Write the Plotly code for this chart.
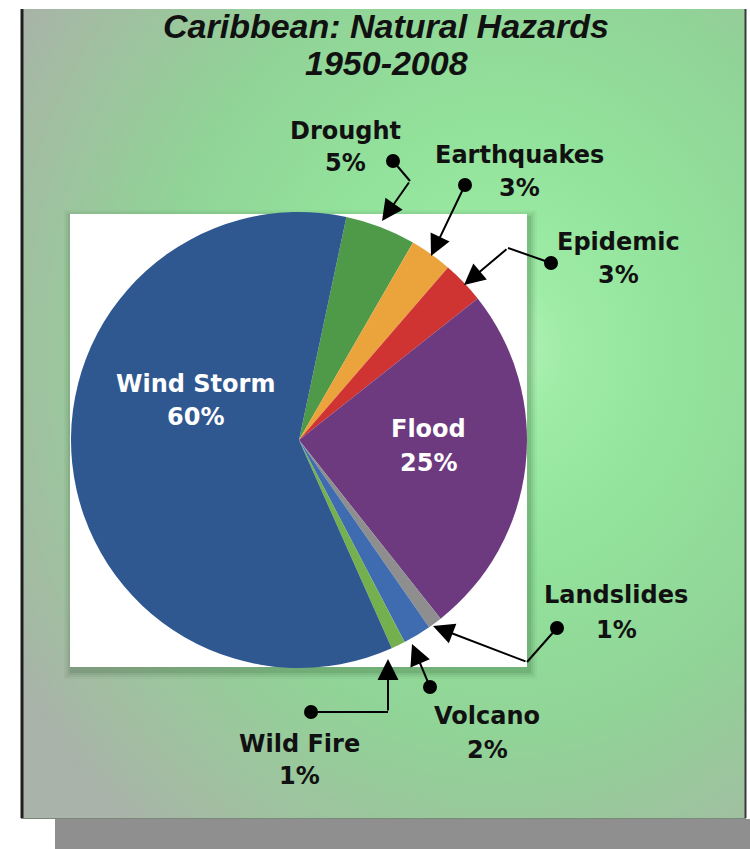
import base64
import plotly.graph_objects as go

# ---- data -------------------------------------------------------------
hazards = ["Drought", "Earthquakes", "Epidemic", "Flood",
           "Landslides", "Volcano", "Wild Fire", "Wind Storm"]
shares = [5, 3, 3, 25, 1, 2, 1, 60]
slice_colors = ["#4f9a48", "#eba43c", "#cf3332", "#6e3a7f",
                "#8e8e8e", "#3f6cb0", "#74b14e", "#2f5890"]
title_lines = ["Caribbean: Natural Hazards", "1950-2008"]

W, H = 750, 849


def px(x):
    return x / W


def py(y):
    return 1 - y / H


# ---- layout geometry (pixels) ----------------------------------------
panel = (21, 9, 746, 818)          # green panel
card = (70, 214, 527, 667)         # white card behind the pie
cx, cy, r = 299, 440, 228          # pie centre and radius

fig = go.Figure()

fig.add_trace(go.Pie(
    labels=hazards, values=shares, sort=False,
    direction="clockwise", rotation=12,
    marker=dict(colors=slice_colors, line=dict(width=0)),
    textinfo="none", hoverinfo="label+percent",
    domain=dict(x=[px(cx - r), px(cx + r)], y=[py(cy + r), py(cy - r)]),
    showlegend=False,
))

# ---- radial green background ----------------------------------------
svg = f"""<svg xmlns='http://www.w3.org/2000/svg' width='725' height='809'
 viewBox='0 0 725 809' preserveAspectRatio='none'>
<defs><radialGradient id='g' cx='0.66' cy='0.42' r='0.78'>
<stop offset='0' stop-color='#b6f2bb'/>
<stop offset='0.12' stop-color='#9eeca6'/>
<stop offset='0.35' stop-color='#92e29b'/>
<stop offset='0.62' stop-color='#91d397'/>
<stop offset='0.85' stop-color='#a0c0a0'/>
<stop offset='1' stop-color='#a9b3a9'/>
</radialGradient></defs>
<rect width='725' height='809' fill='url(#g)'/></svg>"""
src = "data:image/svg+xml;base64," + base64.b64encode(svg.encode()).decode()

fig.add_layout_image(dict(
    source=src, xref="paper", yref="paper",
    x=px(panel[0]), y=py(panel[1]),
    sizex=px(panel[2] - panel[0]), sizey=(panel[3] - panel[1]) / H,
    xanchor="left", yanchor="top", sizing="stretch", layer="below",
))

shapes = []


def rect(x0, y0, x1, y1, fill, line=None, lw=0, layer="below"):
    shapes.append(dict(type="rect", xref="paper", yref="paper",
                       x0=px(x0), x1=px(x1), y0=py(y1), y1=py(y0),
                       fillcolor=fill, line=dict(color=line or fill, width=lw),
                       layer=layer))


# grey drop shadow under the panel
rect(55, 819, 750, 849, "#8f8f8f")
# panel borders
shapes.append(dict(type="line", xref="paper", yref="paper",
                   x0=px(22), x1=px(22), y0=py(panel[1]), y1=py(panel[3]),
                   line=dict(color="#1e1e1e", width=3), layer="below"))
shapes.append(dict(type="line", xref="paper", yref="paper",
                   x0=px(745.5), x1=px(745.5), y0=py(panel[1]), y1=py(panel[3]),
                   line=dict(color="#3a3a3a", width=2), layer="below"))
shapes.append(dict(type="line", xref="paper", yref="paper",
                   x0=px(21), x1=px(746), y0=py(818.5), y1=py(818.5),
                   line=dict(color="#7a8a7a", width=1), layer="below"))

# soft shadow around the white card
for grow, alpha in [(8, 0.035), (6, 0.05), (4, 0.07), (2, 0.1)]:
    rect(card[0] - grow + 2, card[1] - grow + 4, card[2] + grow + 2,
         card[3] + grow + 4, f"rgba(20,60,20,{alpha})")
rect(*card, "white")

# ---- callouts ---------------------------------------------------------
# (dot, bend points..., arrow tip) for each small slice
callouts = {
    "Drought": [(393, 161), (410, 181), (382, 221)],
    "Earthquakes": [(465, 185), (431, 256)],
    "Epidemic": [(551, 263), (508, 248), (464, 285)],
    "Landslides": [(557, 628), (527, 662), (433, 626)],
    "Volcano": [(430, 687), (412, 644)],
    "Wild Fire": [(311, 712), (388, 712), (388, 659)],
}

annotations = []
for name, pts in callouts.items():
    dx, dy = pts[0]
    shapes.append(dict(type="circle", xref="paper", yref="paper",
                       x0=px(dx - 7), x1=px(dx + 7), y0=py(dy + 7), y1=py(dy - 7),
                       fillcolor="black", line=dict(color="black", width=0),
                       layer="above"))
    for (x0, y0), (x1, y1) in zip(pts[:-2], pts[1:-1]):
        shapes.append(dict(type="line", xref="paper", yref="paper",
                           x0=px(x0), y0=py(y0), x1=px(x1), y1=py(y1),
                           line=dict(color="black", width=2), layer="above"))
    (tx, ty), (hx, hy) = pts[-2], pts[-1]
    annotations.append(dict(
        xref="paper", yref="paper", x=px(hx), y=py(hy),
        ax=tx - hx, ay=ty - hy, axref="pixel", ayref="pixel",
        text="", showarrow=True, arrowhead=2, arrowsize=2.1,
        arrowwidth=2, arrowcolor="black", standoff=0, startstandoff=0,
    ))

# ---- labels -----------------------------------------------------------
label_pos = {
    "Drought": (345, 131, 163),
    "Earthquakes": (519, 155, 188),
    "Epidemic": (618, 242, 275),
    "Landslides": (616, 595, 630),
    "Volcano": (487, 716, 750),
    "Wild Fire": (299, 744, 776),
    "Wind Storm": (195, 384, 417),
    "Flood": (428, 429, 463),
}
inside = {"Wind Storm", "Flood"}
label_font = "DejaVu Sans, Verdana, sans-serif"

for name, val in zip(hazards, shares):
    x, y1, y2 = label_pos[name]
    color = "white" if name in inside else "#111111"
    for txt, yy in [(name, y1), (f"{val}%", y2)]:
        annotations.append(dict(
            xref="paper", yref="paper", x=px(x), y=py(yy),
            xanchor="center", yanchor="middle", text=txt, showarrow=False,
            font=dict(family=label_font, size=24, color=color, weight="bold"),
        ))

for txt, yy in zip(title_lines, [26, 63]):
    annotations.append(dict(
        xref="paper", yref="paper", x=px(386), y=py(yy),
        xanchor="center", yanchor="middle", text=txt, showarrow=False,
        font=dict(family="Liberation Sans, Arial, sans-serif", size=34,
                  color="#111111", weight="bold", style="italic"),
    ))

fig.update_layout(
    width=W, height=H, margin=dict(l=0, r=0, t=0, b=0),
    paper_bgcolor="white", plot_bgcolor="white",
    shapes=shapes, annotations=annotations,
)

fig.write_html("out.html")
